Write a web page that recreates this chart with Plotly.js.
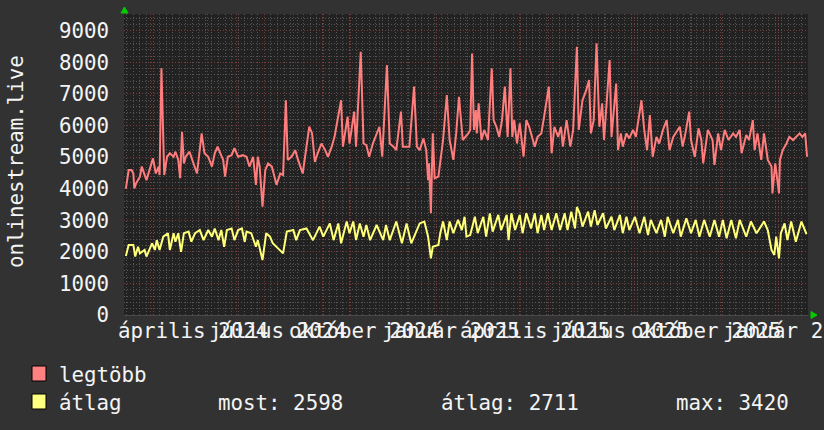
<!DOCTYPE html>
<html><head><meta charset="utf-8">
<script src="https://cdn.plot.ly/plotly-3.0.1.min.js"></script>
<style>html,body{margin:0;padding:0;background:#323232;}#chart{width:824px;height:430px;}</style>
</head><body><div id="chart"></div>
<script>
// ---- data ----
const startDate = '2024-02-02';
const endDate = '2026-02-02';
const seriesNames = ['legtöbb', 'átlag'];
const yAxisTitle = 'onlinestream.live';

// "legtöbb" (max) series: day offsets from startDate and values
const maxDays = [2,5,8,10,11,13,17,19,24,28,31,34,37,38,40,43,46,49,53,55,58,60,62,64,66,70,72,78,83,86,90,94,97,100,103,106,108,111,115,118,122,127,131,134,138,141,143,145,148,151,154,158,163,167,170,173,175,179,183,186,191,198,201,204,207,211,215,218,222,225,232,234,239,241,246,248,253,256,259,262,266,273,276,281,284,288,291,296,298,305,310,313,316,320,323,325,326,328,330,332,336,339,341,345,348,352,355,358,362,368,370,372,374,376,377,379,382,385,389,393,395,398,401,404,407,410,413,415,417,420,423,427,430,433,439,442,446,449,454,457,460,464,467,469,473,477,480,484,486,490,494,497,499,502,505,508,511,513,519,521,526,528,531,533,537,540,544,547,553,556,559,562,565,569,572,576,580,583,587,594,597,600,604,606,610,614,617,619,624,629,631,635,638,642,646,651,654,658,660,665,668,672,674,677,681,684,688,692,693,696,700,701,704,708,711,715,718,722,725,728,730];
const maxValues = [4000,4590,4590,4480,4010,4170,4380,4700,4270,4700,4960,4480,4700,4430,7810,4430,5010,5120,5010,5170,4910,4330,5800,4800,5010,5170,5010,4480,5750,5120,5010,4700,5120,5330,5120,4910,4380,5010,5060,5280,5010,5060,5010,4700,5010,4120,5010,4700,3430,4590,4800,4700,4120,4480,4430,6800,4910,5010,5220,4910,4480,5960,5750,4850,5120,5430,5220,5010,5330,5640,6800,5330,6280,5430,6440,5330,8330,5430,5380,5010,5430,5960,5010,7910,5430,5330,5220,6440,5330,5330,7230,5330,5220,5590,5220,4270,4800,3220,5750,4330,4380,5120,5540,6960,5540,4910,5750,6910,5540,5750,5860,8280,5860,6490,5750,6700,5540,5860,5540,7810,6170,5960,5640,6170,7230,5640,7810,5640,6170,5430,6070,5010,6170,5960,5330,5640,5750,6280,7230,5120,5960,5640,5960,5330,6170,5330,5860,8490,5860,6800,7120,7440,5750,6170,8600,5960,6700,5540,8070,5640,7330,5220,5750,5330,5750,5590,5860,5640,6800,5860,5220,6330,5010,5640,5430,5860,6170,5220,5640,5960,5330,5750,6440,5540,5010,5910,5540,4800,5860,5540,4750,5750,5220,5860,5540,5750,5640,5860,5120,5700,5540,6170,5220,5750,4910,5750,4910,4700,3850,4800,3850,4910,5220,5430,5640,5540,5640,5750,5640,5750,5010];

// "átlag" (average) series
const avgDays = [2,5,10,12,15,17,22,24,30,33,35,38,42,47,49,53,55,58,61,64,69,72,76,81,85,90,94,97,101,104,107,110,115,118,122,126,129,131,136,141,143,148,152,156,159,163,170,174,181,184,188,195,202,209,213,220,224,229,232,238,241,245,248,252,256,259,263,270,277,280,284,291,297,302,307,316,321,325,328,330,336,338,341,345,348,352,357,361,364,366,370,375,378,384,387,391,394,400,403,409,411,414,418,423,426,430,435,439,442,446,449,453,457,462,466,471,474,478,482,484,487,490,496,499,503,506,512,515,521,524,530,533,537,540,546,551,556,560,563,569,574,578,581,587,592,595,601,606,611,615,620,626,631,636,640,644,649,654,658,665,670,676,684,688,692,695,697,700,702,706,709,713,718,724,729,730];
const avgValues = [1870,2220,2220,1850,2160,1950,2060,1850,2270,2060,2370,2060,2480,2590,2060,2590,2320,2590,2000,2590,2640,2320,2590,2690,2370,2690,2480,2740,2370,2690,2160,2690,2740,2370,2690,2740,2320,2640,2590,2160,2370,1740,2590,2480,2270,2160,1950,2640,2690,2370,2690,2740,2370,2800,2480,2900,2370,2900,2270,2960,2590,2960,2370,2900,2480,2850,2370,2850,2370,2850,2370,2960,2270,2900,2270,2900,2960,2480,1790,2160,2220,2590,2960,2370,2960,2590,3010,2690,3110,2480,2530,3110,2590,3110,2480,3220,2640,3170,2690,3170,2370,3220,2690,3170,2590,3220,2740,3220,2590,3170,2690,3220,2690,3220,2690,3220,2690,3270,2740,3420,3220,2800,3270,2800,3320,2850,3220,2740,3110,2690,3170,2590,3110,2690,3110,2590,3110,2530,3010,2590,3010,2480,3110,2590,3010,2480,3060,2590,3010,2480,3010,2480,3010,2480,3010,2430,3010,2430,3010,2480,2960,2590,2960,2690,2060,1900,2480,1790,2590,2900,2370,2960,2320,2960,2590,2598];

// x-axis labels (centred mid-month, RRDtool style)
const monthLabels = ['április 2024','július 2024','október 2024','január 2025','április 2025','július 2025','október 2025','január 2026'];
const monthLabelDates = ['2024-04-16','2024-07-16','2024-10-16','2025-01-16','2025-04-16','2025-07-16','2025-10-16','2026-01-16'];

// legend texts
const statLabels = ['most: 2598', 'átlag: 2711', 'max: 3420'];

// ---- styling ----
const FONT = 'DejaVu Sans Mono';
const FS = 20.8;
const TXT = '#f4f4f4';
const PINK = '#ff7d7d';
const YELLOW = '#ffff78';
const MAJOR = '#7a3a3a';
const MINOR = '#555555';
const DASH = '1px,2px';

const L = 124, R = 808, T = 14, B = 315, W = 824, H = 430;
const px = x => (x - L) / (R - L);
const py = y => (B - y) / (B - T);

const base = Date.UTC(2024, 1, 2);
const toDate = d => new Date(base + d * 86400000).toISOString().slice(0, 10);

const traces = [
  {x: maxDays.map(toDate), y: maxValues, type: 'scatter', mode: 'lines', name: seriesNames[0],
   line: {color: PINK, width: 2}, hoverinfo: 'skip'},
  {x: avgDays.map(toDate), y: avgValues, type: 'scatter', mode: 'lines', name: seriesNames[1],
   line: {color: YELLOW, width: 2}, hoverinfo: 'skip'}
];

const annotations = [];
monthLabels.forEach((t, i) => annotations.push({
  x: monthLabelDates[i], xref: 'x', y: 0, yref: 'paper', yanchor: 'top', xanchor: 'center',
  yshift: -2, text: t, showarrow: false, font: {family: FONT, size: FS, color: TXT}
}));
annotations.push({x: px(16), xref: 'paper', y: py(162), yref: 'paper', text: yAxisTitle,
  textangle: -90, showarrow: false, xanchor: 'center', yanchor: 'middle',
  font: {family: FONT, size: FS, color: TXT}});
annotations.push({x: px(57), xref: 'paper', y: py(375), yref: 'paper', text: seriesNames[0],
  showarrow: false, xanchor: 'left', yanchor: 'middle', font: {family: FONT, size: FS, color: TXT}});
annotations.push({x: px(57), xref: 'paper', y: py(403), yref: 'paper', text: seriesNames[1],
  showarrow: false, xanchor: 'left', yanchor: 'middle', font: {family: FONT, size: FS, color: TXT}});
[216, 439, 674].forEach((xx, i) => annotations.push({x: px(xx), xref: 'paper', y: py(403), yref: 'paper',
  text: statLabels[i], showarrow: false, xanchor: 'left', yanchor: 'middle',
  font: {family: FONT, size: FS, color: TXT}}));

const shapes = [
  {type: 'rect', xref: 'paper', yref: 'paper', x0: px(32), x1: px(46), y0: py(381), y1: py(366),
   fillcolor: '#ff8080', line: {color: '#000', width: 1}},
  {type: 'rect', xref: 'paper', yref: 'paper', x0: px(32), x1: px(46), y0: py(409), y1: py(394),
   fillcolor: '#ffff80', line: {color: '#000', width: 1}},
  {type: 'path', xref: 'paper', yref: 'paper',
   path: `M ${px(121)} ${py(13)} L ${px(128)} ${py(13)} L ${px(124.5)} ${py(7)} Z`,
   fillcolor: '#00cc00', line: {color: '#00cc00', width: 1}},
  {type: 'path', xref: 'paper', yref: 'paper',
   path: `M ${px(811)} ${py(311.5)} L ${px(811)} ${py(318.5)} L ${px(817)} ${py(315)} Z`,
   fillcolor: '#00cc00', line: {color: '#00cc00', width: 1}}
];

const layout = {
  width: W, height: H,
  margin: {l: L, r: W - R, t: T, b: H - B, pad: 0},
  paper_bgcolor: '#323232', plot_bgcolor: '#222222',
  showlegend: false,
  font: {family: FONT, size: FS, color: TXT},
  xaxis: {
    type: 'date', range: [startDate, endDate], showticklabels: false, ticks: '',
    tick0: '2024-03-01', dtick: 'M1', showgrid: true, gridcolor: MAJOR, griddash: DASH, gridwidth: 1,
    zeroline: false, showline: true, linecolor: '#4a4a4a', linewidth: 1,
    minor: {tick0: '2024-02-05', dtick: 7 * 86400000, showgrid: true, gridcolor: MINOR, griddash: DASH, gridwidth: 1}
  },
  yaxis: {
    range: [0, 9530], tickmode: 'linear', tick0: 0, dtick: 1000, tickformat: 'd',
    showgrid: true, gridcolor: MAJOR, griddash: DASH, gridwidth: 1, zeroline: false,
    ticks: '', ticklabelstandoff: 14,
    tickfont: {family: FONT, size: FS, color: TXT},
    minor: {tick0: 0, dtick: 200, showgrid: true, gridcolor: MINOR, griddash: DASH, gridwidth: 1}
  },
  annotations: annotations,
  shapes: shapes
};

Plotly.newPlot('chart', traces, layout, {staticPlot: true, displayModeBar: false});
</script>
</body></html>
